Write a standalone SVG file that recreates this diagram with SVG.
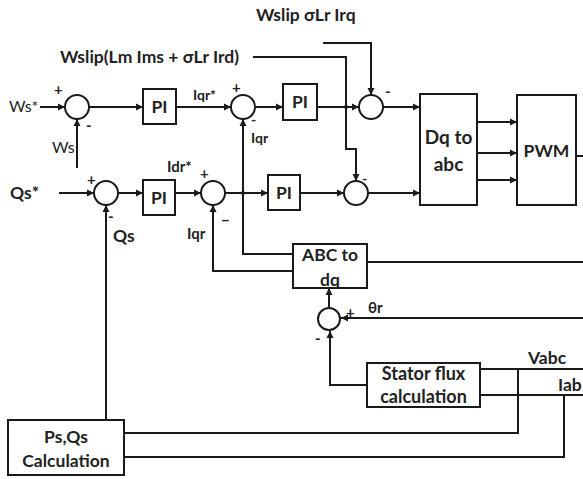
<svg xmlns="http://www.w3.org/2000/svg" width="583" height="479" viewBox="0 0 583 479">
<style>
.w{stroke:#1a1a1a;stroke-width:2;fill:none}
.b{stroke:#1a1a1a;stroke-width:2;fill:#fff}
.t{font-family:Lato,"Liberation Sans",sans-serif;font-weight:bold;font-size:17.5px;fill:#222}
.r{font-family:Lato,"Liberation Sans",sans-serif;font-size:16px;fill:#222}
.m{text-anchor:middle}
.s{font-family:Lato,"Liberation Sans",sans-serif;font-weight:bold;font-size:14px;fill:#222}
.g{font-family:Lato,"Liberation Sans",sans-serif;font-weight:bold;font-size:15px;fill:#222}
</style>
<defs>
<marker id="a" markerWidth="8" markerHeight="8" refX="7" refY="4" orient="auto" markerUnits="userSpaceOnUse">
<path d="M0,0.5 L7,4 L0,7.5 Z" fill="#1a1a1a"/>
</marker>
</defs>
<rect width="583" height="479" fill="#fff"/>
<g id="connectors">
<path class="w" d="M40,107 H65" marker-end="url(#a)"/>
<path class="w" d="M77,168 V119" marker-end="url(#a)"/>
<path class="w" d="M89,107 H143" marker-end="url(#a)"/>
<path class="w" d="M176,107 H231" marker-end="url(#a)"/>
<path class="w" d="M293,254 H243 V119" marker-end="url(#a)"/>
<path class="w" d="M255,107 H283" marker-end="url(#a)"/>
<path class="w" d="M317,107 H359" marker-end="url(#a)"/>
<path class="w" d="M323,43 H371 V95" marker-end="url(#a)"/>
<path class="w" d="M253,57 H346 V149 H356 V181" marker-end="url(#a)"/>
<path class="w" d="M383,107 H420" marker-end="url(#a)"/>
<path class="w" d="M59,193 H94" marker-end="url(#a)"/>
<path class="w" d="M106,420 V205" marker-end="url(#a)"/>
<path class="w" d="M118,193 H143" marker-end="url(#a)"/>
<path class="w" d="M175,193 H201" marker-end="url(#a)"/>
<path class="w" d="M293,271 H213 V205" marker-end="url(#a)"/>
<path class="w" d="M225,193 H268" marker-end="url(#a)"/>
<path class="w" d="M300,193 H344" marker-end="url(#a)"/>
<path class="w" d="M368,193 H420" marker-end="url(#a)"/>
<path class="w" d="M477,122 H517" marker-end="url(#a)"/>
<path class="w" d="M477,153 H517" marker-end="url(#a)"/>
<path class="w" d="M477,180 H517" marker-end="url(#a)"/>
<path class="w" d="M576,156 H583"/>
<path class="w" d="M367,262 H583"/>
<path class="w" d="M329,307 V288" marker-end="url(#a)"/>
<path class="w" d="M583,318 H341" marker-end="url(#a)"/>
<path class="w" d="M367,385 H330 V331" marker-end="url(#a)"/>
<path class="w" d="M480,369 H583"/>
<path class="w" d="M480,395 H583"/>
<path class="w" d="M518,369 V433 H124"/>
<path class="w" d="M564,395 V457 H124"/>
<circle cx="346" cy="107" r="2" fill="#1a1a1a"/>
<circle cx="243" cy="193" r="2" fill="#1a1a1a"/>
</g>
<g id="labels">
<text class="t" x="256" y="21">Wslip σLr Irq</text>
<text class="t" x="60" y="63">Wslip(Lm Ims + σLr Ird)</text>
<text class="r" x="9" y="112">Ws*</text>
<text class="r" x="52" y="153">Ws</text>
<text class="s" x="193" y="100">Iqr*</text>
<text class="s" x="251" y="143">Iqr</text>
<text class="g" x="167" y="172">Idr*</text>
<text class="t" x="10" y="199">Qs*</text>
<text class="t" x="113" y="242">Qs</text>
<text class="g" x="187" y="239">Iqr</text>
<text class="g" x="368" y="313">θr</text>
<text class="t" x="528" y="364">Vabc</text>
<text class="t" x="558" y="391">Iab</text>
<text class="g" x="54" y="95">+</text>
<text class="g" x="86" y="131">-</text>
<text class="g" x="232" y="93">+</text>
<text class="s" x="251" y="125">-</text>
<text class="g" x="385" y="97">-</text>
<text class="g" x="87" y="185">+</text>
<text class="g" x="108" y="222">-</text>
<text class="g" x="200" y="179">+</text>
<text class="g" x="221" y="226">−</text>
<text class="s" x="362" y="184">-</text>
<text class="g" x="346" y="318">+</text>
<text class="g" x="315" y="344">-</text>
</g>
<g id="c1"><circle class="b" cx="77" cy="107" r="12"/></g>
<g id="c2"><circle class="b" cx="243" cy="107" r="12"/></g>
<g id="c_ur"><circle class="b" cx="371" cy="107" r="12"/></g>
<g id="c3"><circle class="b" cx="106" cy="193" r="12"/></g>
<g id="c4"><circle class="b" cx="213" cy="193" r="12"/></g>
<g id="c_lr"><circle class="b" cx="356" cy="193" r="12"/></g>
<g id="c5"><circle class="b" cx="329" cy="319" r="11"/></g>
<g id="pi1"><rect class="b" x="143" y="89" width="33" height="35"/><text class="t m" x="159.5" y="113">PI</text></g>
<g id="pi2"><rect class="b" x="283" y="84" width="34" height="36"/><text class="t m" x="300" y="108">PI</text></g>
<g id="pi3"><rect class="b" x="143" y="180" width="32" height="35"/><text class="t m" x="159" y="204">PI</text></g>
<g id="pi4"><rect class="b" x="268" y="175" width="32" height="35"/><text class="t m" x="284" y="199">PI</text></g>
<g id="dq2abc"><rect class="b" x="420" y="94" width="57" height="111"/><text class="t m" x="448.5" y="144" style="font-size:19px">Dq to</text><text class="t m" x="448.5" y="171" style="font-size:19px">abc</text></g>
<g id="pwm"><rect class="b" x="517" y="95" width="59" height="110"/><text class="t m" x="546.5" y="157">PWM</text></g>
<g id="abc2dq"><rect class="b" x="293" y="244" width="74" height="44"/><text class="t m" x="330" y="261">ABC to</text><text class="t m" x="330" y="286">dq</text></g>
<g id="stator"><rect class="b" x="367" y="363" width="113" height="44"/><text class="t m" x="423.5" y="380" style="font-size:18px">Stator flux</text><text class="t m" x="423.5" y="403" style="font-size:18px">calculation</text></g>
<g id="psqs"><rect class="b" x="8" y="420" width="116" height="55"/><text class="t m" x="66" y="443">Ps,Qs</text><text class="t m" x="66" y="467">Calculation</text></g>
</svg>
